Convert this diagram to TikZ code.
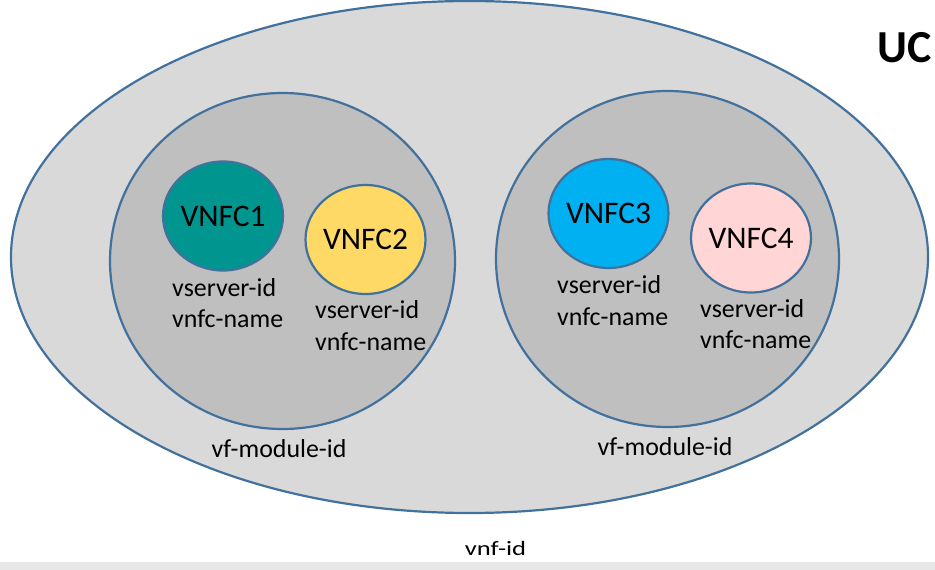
\documentclass[tikz,border=0pt]{standalone}
\usepackage{fontspec}
\setmainfont{Carlito}
\usetikzlibrary{shapes.geometric}
\definecolor{rim}{HTML}{41719C}
\definecolor{vnfbg}{HTML}{D9D9D9}
\definecolor{modbg}{HTML}{BFBFBF}
\definecolor{cteal}{HTML}{00968F}
\definecolor{cgold}{HTML}{FFD966}
\definecolor{csky}{HTML}{00B0F0}
\definecolor{cpink}{HTML}{FFD5D5}
\definecolor{band}{HTML}{E7E7E7}
\tikzset{
  blob/.style={ellipse, draw=rim, line width=2.2bp, inner sep=0pt},
  vnfc/.style={blob, minimum width=119bp, minimum height=109bp,
    font=\fontsize{31.5}{35}\selectfont},
  idtext/.style={inner sep=0pt, anchor=base west, font=\fontsize{26}{30}\selectfont},
  captext/.style={inner sep=0pt, anchor=base, font=\fontsize{26}{30}\selectfont}
}
\begin{document}
\begin{tikzpicture}[x=1bp,y=-1bp]
  \useasboundingbox (0,0) rectangle (935,570);
  \fill[white] (0,0) rectangle (935,570);
  \fill[band] (0,562) rectangle (935,570);

  % VNF container
  \node[blob, fill=vnfbg, minimum width=917bp, minimum height=512bp] (vnf) at (469.5,257) {};
  \node[inner sep=0pt, anchor=base west, font=\bfseries\fontsize{46}{50}\selectfont] (uc) at (877,63) {UC};
  \node[inner sep=0pt, anchor=base, font=\fontsize{20.5}{24}\selectfont] (vnfid) at (495.5,555) {\scalebox{1.3}[1]{vnf-id}};

  % VF modules
  \node[blob, fill=modbg, minimum width=345bp, minimum height=336bp] (mod1) at (282.5,261) {};
  \node[blob, fill=modbg, minimum width=343bp, minimum height=336bp] (mod2) at (667.5,259) {};
  \node[captext] (mid1) at (279,457) {vf-module-id};
  \node[captext] (mid2) at (665,455) {vf-module-id};

  % VNF components
  \node[vnfc, fill=cteal] (c1) at (223,216) {VNFC1};
  \node[vnfc, fill=cgold] (c2) at (365.5,239.5) {VNFC2};
  \node[vnfc, fill=csky]  (c3) at (608.5,213.5) {VNFC3};
  \node[vnfc, fill=cpink] (c4) at (751,238) {VNFC4};

  % component identifiers
  \node[idtext] (vs1) at (172,296) {vserver-id};
  \node[idtext] (vn1) at (172,327) {vnfc-name};
  \node[idtext] (vs2) at (315,318) {vserver-id};
  \node[idtext] (vn2) at (315,350) {vnfc-name};
  \node[idtext] (vs3) at (557,293) {vserver-id};
  \node[idtext] (vn3) at (557,325) {vnfc-name};
  \node[idtext] (vs4) at (700,317) {vserver-id};
  \node[idtext] (vn4) at (700,348) {vnfc-name};
\end{tikzpicture}
\end{document}
